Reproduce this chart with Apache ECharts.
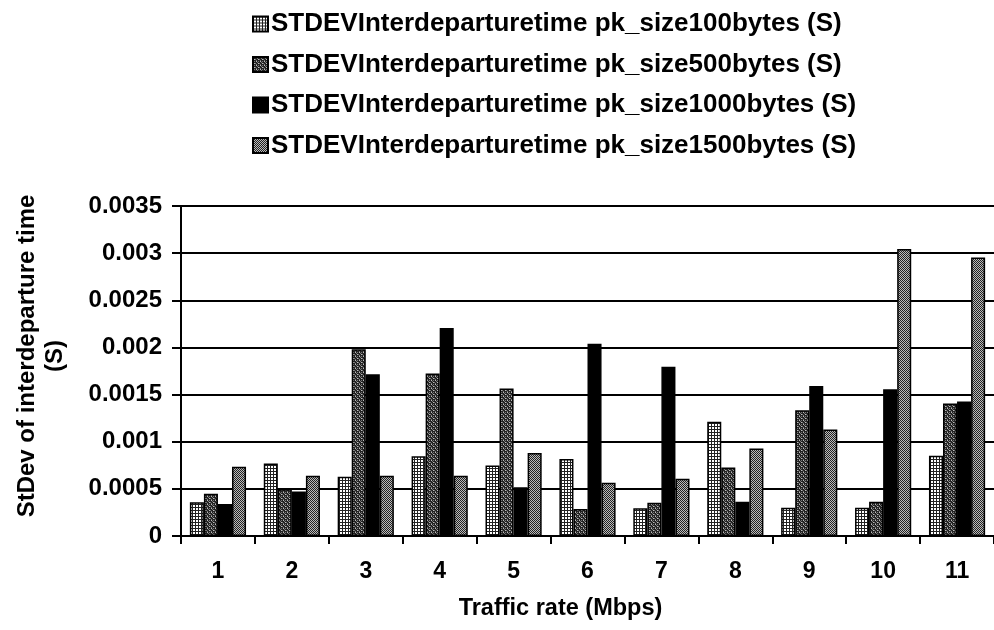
<!DOCTYPE html>
<html><head><meta charset="utf-8">
<script src="https://cdn.jsdelivr.net/npm/echarts@6/dist/echarts.min.js"></script>
<style>html,body{margin:0;padding:0;background:#fff}#c{width:994px;height:630px}</style>
</head><body><div id="c"></div>
<script>
var categories = ['1','2','3','4','5','6','7','8','9','10','11'];
var seriesNames = [
  'STDEVInterdeparturetime pk_size100bytes (S)',
  'STDEVInterdeparturetime pk_size500bytes (S)',
  'STDEVInterdeparturetime pk_size1000bytes (S)',
  'STDEVInterdeparturetime pk_size1500bytes (S)'
];
var size100  = [0.000357, 0.00077, 0.000628, 0.000847, 0.000749, 0.000816, 0.000293, 0.001211, 0.0003, 0.0003, 0.000851];
var size500  = [0.000448, 0.000495, 0.00198, 0.001723, 0.001564, 0.000286, 0.000353, 0.000727, 0.001335, 0.000364, 0.001406];
var size1000 = [0.000339, 0.000473, 0.001716, 0.002207, 0.000516, 0.00204, 0.001794, 0.000364, 0.001592, 0.001557, 0.001427];
var size1500 = [0.000734, 0.000639, 0.000639, 0.000639, 0.000879, 0.000565, 0.000607, 0.000929, 0.00113, 0.003044, 0.002955];
var yTicks = ['0','0.0005','0.001','0.0015','0.002','0.0025','0.003','0.0035'];

function makePattern(w, h, rows) {
  var c = document.createElement('canvas');
  c.width = w; c.height = h;
  var ctx = c.getContext('2d');
  for (var y = 0; y < h; y++) for (var x = 0; x < w; x++) {
    ctx.fillStyle = rows[y][x];
    ctx.fillRect(x, y, 1, 1);
  }
  return {image: c, repeat: 'repeat'};
}
var W = '#ffffff', D = '#222222', M = '#777777', L = '#bbbbbb';
var pat1 = makePattern(3, 3, [[D,D,D],[D,W,W],[D,W,W]]);
var pat2 = makePattern(4, 4, [[D,M,D,L],[M,D,D,D],[D,L,M,D],[D,D,D,M]]);
var pat4 = makePattern(2, 2, [[D,L],[L,D]]);
var fills = [pat1, pat2, '#000000', pat4];
var dataSets = [size100, size500, size1000, size1500];

var font = 'Liberation Sans, Arial, sans-serif';
var chart = echarts.init(document.getElementById('c'), null, {renderer: 'canvas'});
chart.setOption({
  animation: false,
  backgroundColor: '#fff',
  legend: {
    orient: 'vertical', left: 247, top: 6, itemWidth: 15, itemHeight: 15, itemGap: 14.5,
    icon: 'rect',
    textStyle: {fontFamily: font, fontWeight: 'bold', fontSize: 26, lineHeight: 26, color: '#000', padding: [0,0,0,-2]},
    data: seriesNames
  },
  grid: {left: 181, right: 0, top: 206, bottom: 94, containLabel: false, outerBoundsMode: 'none'},
  xAxis: {
    type: 'category', data: categories,
    name: 'Traffic rate (Mbps)', nameLocation: 'middle', nameGap: 61,
    nameTextStyle: {fontFamily: font, fontWeight: 'bold', fontSize: 23.5, color: '#000', padding: [0,54,0,0]},
    axisLine: {lineStyle: {color: '#000', width: 2}},
    axisTick: {show: true, length: 8, lineStyle: {color: '#000', width: 2}},
    axisLabel: {fontFamily: font, fontWeight: 'bold', fontSize: 23, color: '#000', margin: 24}
  },
  yAxis: {
    type: 'value', min: 0, max: 0.0035, interval: 0.0005,
    name: 'StDev of interdeparture time\n(S)', nameLocation: 'middle', nameGap: 112, nameRotate: 90,
    nameTextStyle: {fontFamily: font, fontWeight: 'bold', fontSize: 24, color: '#000', lineHeight: 28, padding: [0,0,0,30]},
    axisLine: {show: true, lineStyle: {color: '#000', width: 2}},
    axisTick: {show: true, length: 9, lineStyle: {color: '#000', width: 2}},
    splitLine: {show: true, lineStyle: {color: '#000', width: 2}},
    axisLabel: {fontFamily: font, fontWeight: 'bold', fontSize: 24, color: '#000', margin: 19,
      formatter: function (v) { var i = Math.round(v / 0.0005); return yTicks[i]; }}
  },
  series: dataSets.map(function (d, i) {
    return {
      name: seriesNames[i], type: 'bar', data: d,
      barGap: '0%', barCategoryGap: '24%',
      itemStyle: {color: fills[i], borderColor: '#000', borderWidth: 1.5}
    };
  })
});
</script></body></html>
